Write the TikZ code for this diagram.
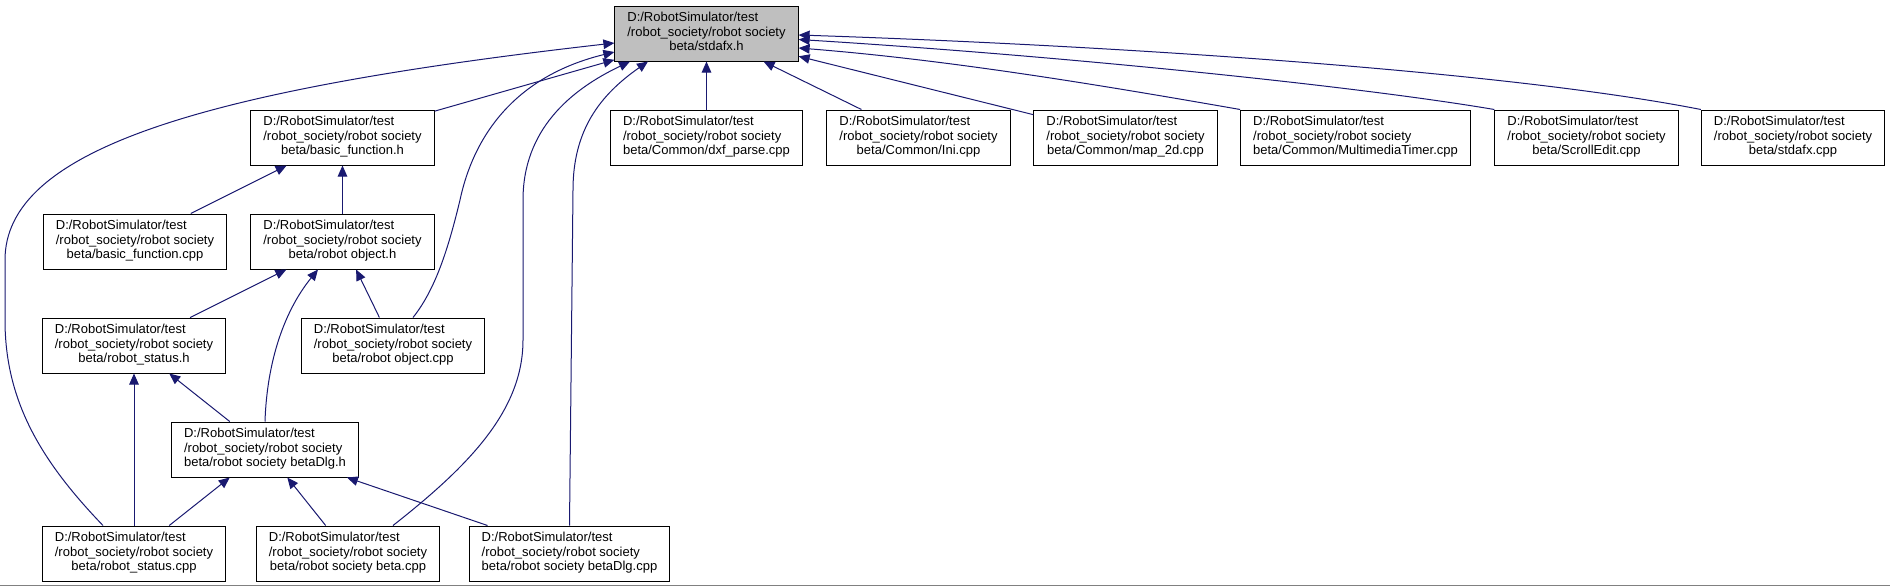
\documentclass[tikz,border=0pt]{standalone}
\usepackage{fontspec}
\setmainfont{Liberation Sans}
\usetikzlibrary{arrows.meta}

\definecolor{edgeblue}{RGB}{25,25,112}
\definecolor{topgray}{RGB}{191,191,191}
\definecolor{rulegray}{RGB}{128,128,128}

\newcommand{\srcfile}[1]{\begin{tabular}{@{}l@{}}D:/RobotSimulator/test\\/robot\_society/robot society\\\multicolumn{1}{@{}c@{}}{#1}\end{tabular}}

\tikzset{
    file/.style={draw=black, fill=white, line width=1pt, inner xsep=12.5pt, inner ysep=0pt,
        minimum height=55pt, font=\fontsize{13}{14.5}\selectfont},
    dep/.style={draw=edgeblue, line width=1pt, -{Triangle[length=11pt, width=9.5pt]}}
}

\begin{document}
\begin{tikzpicture}[x=1pt, y=-1pt]
    \useasboundingbox (0,0) rectangle (1890,587);
    \draw[rulegray, line width=1.5pt] (0,585.5) -- (1890,585.5);
    % The files, row by row.
        \node[file, fill=topgray] (stdafxh) at (706.5,33.5) {\srcfile{beta/stdafx.h}};
        \node[file] (basicfh) at (342.5,137.5) {\srcfile{beta/basic\_function.h}};
        \node[file] (dxf) at (706.5,137.5) {\srcfile{beta/Common/dxf\_parse.cpp}};
        \node[file] (ini) at (918.5,137.5) {\srcfile{beta/Common/Ini.cpp}};
        \node[file] (map) at (1125.5,137.5) {\srcfile{beta/Common/map\_2d.cpp}};
        \node[file] (mmt) at (1355.5,137.5) {\srcfile{beta/Common/MultimediaTimer.cpp}};
        \node[file] (scroll) at (1586.5,137.5) {\srcfile{beta/ScrollEdit.cpp}};
        \node[file] (stdcpp) at (1793,137.5) {\srcfile{beta/stdafx.cpp}};
        \node[file] (basicfcpp) at (135,241.5) {\srcfile{beta/basic\_function.cpp}};
        \node[file] (robjh) at (342.5,241.5) {\srcfile{beta/robot object.h}};
        \node[file] (rstath) at (134,345.5) {\srcfile{beta/robot\_status.h}};
        \node[file] (robjcpp) at (393,345.5) {\srcfile{beta/robot object.cpp}};
        \node[file] (dlgh) at (265,449.5) {\srcfile{beta/robot society betaDlg.h}};
        \node[file] (rstatcpp) at (134,553.5) {\srcfile{beta/robot\_status.cpp}};
        \node[file] (betacpp) at (348,553.5) {\srcfile{beta/robot society beta.cpp}};
        \node[file] (dlgcpp) at (569.5,553.5) {\srcfile{beta/robot society betaDlg.cpp}};
    % Includes of stdafx.h.
        \draw[dep] ([xshift=-31pt]rstatcpp.north) .. controls (40,460) and (5,400) .. (5,320)
            -- (5,260) .. controls (5,150) and (200,90) .. ([yshift=-9.5pt]stdafxh.west);
        \draw[dep] (basicfh) -- (stdafxh);
        \draw[dep] ([xshift=20pt]robjcpp.north) .. controls (435,290) and (448,250) .. (460,200)
            .. controls (475,130) and (520,75) .. ([yshift=-18.5pt]stdafxh.west);
        \draw[dep] ([xshift=45pt]betacpp.north) .. controls (470,465) and (523,410) .. (523,340)
            -- (523,200) .. controls (523,130) and (570,90) .. ([xshift=-76.5pt]stdafxh.south);
        \draw[dep] (dlgcpp.north) -- (573,190) .. controls (573,130) and (600,95) .. ([xshift=-58.5pt]stdafxh.south);
        \draw[dep] (dxf) -- (stdafxh);
        \draw[dep] (ini) -- (stdafxh);
        \draw[dep] (map) -- (stdafxh);
        \draw[dep] (mmt.north west) .. controls (1100,85) and (950,60) .. ([yshift=-14.5pt]stdafxh.east);
        \draw[dep] (scroll.north west) .. controls (1350,85) and (1050,55) .. ([yshift=-6pt]stdafxh.east);
        \draw[dep] (stdcpp.north west) .. controls (1500,70) and (1100,45) .. ([yshift=-1.5pt]stdafxh.east);
    % The other includes.
        \draw[dep] (basicfcpp) -- (basicfh);
        \draw[dep] (robjh) -- (basicfh);
        \draw[dep] (rstath) -- (robjh);
        \draw[dep] (dlgh.north) .. controls (267,360) and (285,310) .. ([xshift=-24.5pt]robjh.south);
        \draw[dep] (robjcpp) -- (robjh);
        \draw[dep] (rstatcpp) -- (rstath);
        \draw[dep] (dlgh) -- (rstath);
        \draw[dep] (rstatcpp) -- (dlgh);
        \draw[dep] (betacpp) -- (dlgh);
        \draw[dep] (dlgcpp) -- (dlgh);
\end{tikzpicture}
\end{document}
